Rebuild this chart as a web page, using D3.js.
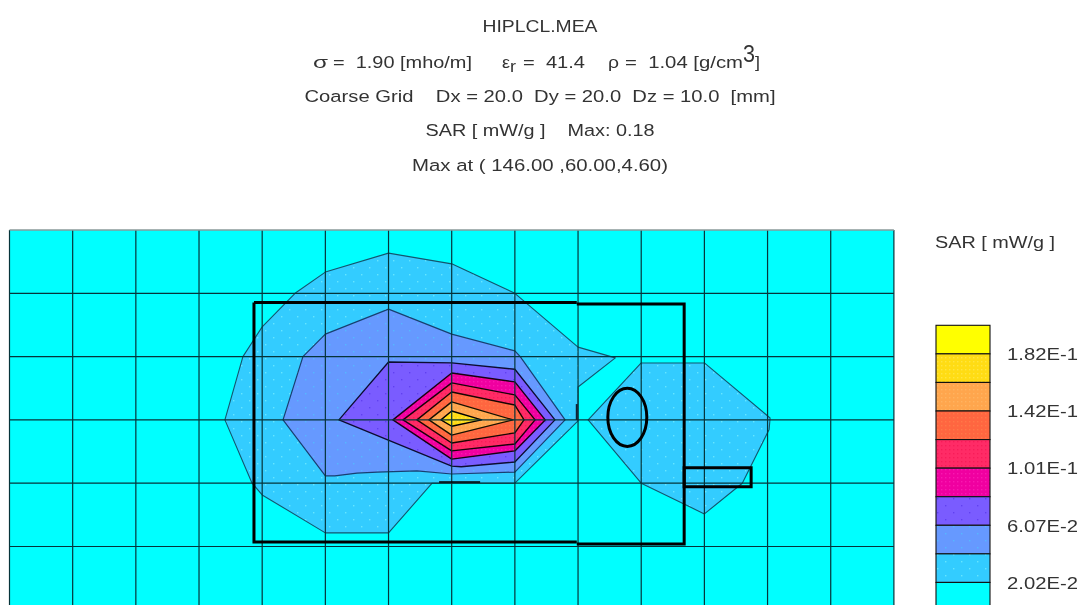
<!DOCTYPE html>
<html>
<head>
<meta charset="utf-8">
<script src="https://cdn.jsdelivr.net/npm/d3@7"></script>
<style>
html,body{margin:0;padding:0;background:#fff;overflow:hidden}
svg{display:block;filter:blur(0.55px)}
text{font-family:"Liberation Sans",Arial,sans-serif;fill:#333;font-size:17.4px}
</style>
</head>
<body>
<div id="chart"></div>
<script>
// ---------- data (all positions in mm on the measurement plane) ----------
const gridXmm = d3.range(0, 281, 20);
const gridYmm = d3.range(0, 121, 20);

const legendLabels = ["1.82E-1", "1.42E-1", "1.01E-1", "6.07E-2", "2.02E-2"];
const bandColors = ["#ffff00","#ffdc14","#ffa64d","#ff6640","#ff2b66","#f000a0","#7a5cff","#6699ff","#33ccff","#00ffff"];

const level1Left = [[68.2,60],[73.9,40],[80,30.6],[90.4,20],[100,13.3],[120,7.3],[140,10.7],[160,20],[180,37],[191.8,40.4],[180,49.6],[180,60.3],[160,80],[133.8,80],[120,95.7],[100,95.7],[80,83.7],[76.8,80]];
const level1Right = [[183.2,60],[200,42],[220,42],[240.8,59.4],[240.5,63],[232,80],[220,89.7],[200,80]];
const level2 = [[86.6,60],[92.9,40],[100,32.9],[120,25],[140,32.9],[160,38.2],[161.7,40],[175.9,60],[160,76.5],[140,77.1],[129,76.1],[116.4,76.5],[110,76.8],[103,77.7],[100,77.7]];
const level3 = [[104.3,60],[120,41.7],[140,42],[160,44],[172.7,60],[160,73.3],[143,74.8],[140,74.6]];
const level4 = [[121.4,60],[140,45.2],[160,48],[169.6,60],[160,69.8],[140,72.4]];
const level5 = [[124.6,60],[140,48.3],[160,52.1],[166.4,60],[160,67.6],[140,69.8]];
const level6 = [[129,60],[140,51.2],[160,55.3],[162.9,60],[160,64.1],[140,67.3]];
const level7 = [[132.8,60],[140,54.3],[159.4,60],[140,64.8]];
const level8 = [[136.6,60],[140,57.2],[149.5,60],[140,62]];

const contourPolys = [
  {poly: level1Left,  band: 8, stroke:"#12566e", w:1.1},
  {poly: level1Right, band: 8, stroke:"#12566e", w:1.1},
  {poly: level2, band: 7, stroke:"#183f70", w:1.2},
  {poly: level3, band: 6, stroke:"#0c0c30", w:1.3},
  {poly: level4, band: 5, stroke:"#180010", w:1.4},
  {poly: level5, band: 4, stroke:"#180008", w:1.4},
  {poly: level6, band: 3, stroke:"#180600", w:1.4},
  {poly: level7, band: 2, stroke:"#181000", w:1.4},
  {poly: level8, band: 1, stroke:"#000", w:1.4}
];

// phone outline (mm)
const phoneBody1 = [[77.4,22.9],[179.6,22.9]];
const phoneBody2 = [[179.6,23.4],[213.6,23.4],[213.6,99.2],[179.6,99.2]];
const phoneBody3 = [[179.6,98.6],[77.4,98.6],[77.4,22.9]];
const phonePort = [[213.6,75.1],[234.8,75.1],[234.8,81.1],[213.6,81.1]];
const antenna = {cx:195.6, cy:59.2, rx:6.17, ry:9.2};
const peakMark = [[136,79.6],[149,79.6]];
const gapMark = [[179.6,55],[179.6,60]];

const titleLines = ["HIPLCL.MEA","Coarse Grid    Dx = 20.0  Dy = 20.0  Dz = 10.0  [mm]","SAR [ mW/g ]    Max: 0.18","Max at ( 146.00 ,60.00,4.60)"];
const legendTitle = "SAR [ mW/g ]";

// ---------- layout ----------
const W = 1082, H = 605;
const svg = d3.select("#chart").append("svg").attr("width",W).attr("height",H);
const x = d3.scaleLinear().domain([0,280]).range([9.5,893.9]);
const y = d3.scaleLinear().domain([0,120]).range([230,609.8]);
const line = d3.line().x(d=>x(d[0])).y(d=>y(d[1]));
const closed = d3.line().x(d=>x(d[0])).y(d=>y(d[1])).curve(d3.curveLinearClosed);

// stipple patterns
const defs = svg.append("defs");
const dotColors = {8:"#66e6ff",7:"#55b8ff",6:"#6040f0",5:"#f818b0",4:"#f81c58",3:"#ff7848",2:"#ffb460",1:"#ffe640"};
bandColors.forEach((c,i)=>{
  const big = i>=6;
  const p = defs.append("pattern").attr("id","band"+i).attr("patternUnits","userSpaceOnUse")
    .attr("width",big?16:4).attr("height",big?14:4);
  p.append("rect").attr("width",16).attr("height",14).attr("fill",c);
  if(dotColors[i]){
    p.append("rect").attr("x",1).attr("y",1).attr("width",1.4).attr("height",1.4).attr("fill",dotColors[i]);
    if(big) p.append("rect").attr("x",9).attr("y",8).attr("width",1.4).attr("height",1.4).attr("fill",dotColors[i]);
  }
});

// plot background
svg.append("rect").attr("x",x(0)).attr("y",y(0)).attr("width",x(280)-x(0)).attr("height",H-y(0)).attr("fill",bandColors[9]);

// contour fills
svg.append("g").selectAll("path").data(contourPolys).join("path")
  .attr("d",d=>closed(d.poly))
  .attr("fill",d=>`url(#band${d.band})`)
  .attr("stroke",d=>d.stroke).attr("stroke-width",d=>d.w).attr("stroke-linejoin","round");

// grid
const grid = svg.append("g").attr("stroke","#06343a").attr("stroke-width",1.2);
grid.selectAll("line.v").data(gridXmm).join("line").attr("class","v")
  .attr("x1",d=>x(d)).attr("x2",d=>x(d)).attr("y1",y(0)).attr("y2",H);
grid.selectAll("line.h").data(gridYmm).join("line").attr("class","h")
  .attr("x1",x(0)).attr("x2",x(280)).attr("y1",d=>y(d)).attr("y2",d=>y(d));
grid.select("line.h").attr("stroke","#8a9a9a").attr("stroke-width",1.6);

// phone outline
const phone = svg.append("g").attr("fill","none").attr("stroke","#000").attr("stroke-width",3);
[phoneBody1,phoneBody2,phoneBody3].forEach(p=>phone.append("path").attr("d",line(p)));
phone.append("path").attr("d",closed(phonePort));
phone.append("ellipse").attr("cx",x(antenna.cx)).attr("cy",y(antenna.cy))
  .attr("rx",x(antenna.rx)-x(0)).attr("ry",y(antenna.ry)-y(0));
svg.append("path").attr("d",line(peakMark)).attr("stroke","#000").attr("stroke-width",1.6);
svg.append("path").attr("d",line(gapMark)).attr("stroke","#123").attr("stroke-width",2);

// the reference text is horizontally stretched: fix each run's drawn width
const fit = (sel,w)=>sel.attr("textLength",w).attr("lengthAdjust","spacingAndGlyphs");

// title
const cx = 540;
const tY = [25.5,96,130,165];
const tW = [115,471,229,256];
svg.append("g").selectAll("text").data(titleLines).join("text")
  .attr("x",cx).attr("y",(d,i)=>tY[i]).attr("dy","0.36em")
  .attr("text-anchor","middle").style("white-space","pre").text(d=>d)
  .call(fit,(d,i)=>tW[i]);

// material parameter line
const matItems = [
  {t:"σ",x:313,y:68,s:17.4,w:15},{t:"=  1.90 [mho/m]",x:333,y:67.5,s:17.4,w:139},
  {t:"ε",x:502,y:67.5,s:16,w:8},{t:"r",x:510,y:72,s:16,w:6},{t:"=  41.4",x:523,y:67.5,s:17.4,w:62},
  {t:"ρ",x:608,y:68,s:17.4,w:11},{t:"=  1.04 [g/cm",x:625,y:67.5,s:17.4,w:118},{t:"3",x:743,y:62,s:23,w:12},{t:"]",x:755,y:67.5,s:17.4,w:5}
];
svg.append("g").selectAll("text").data(matItems).join("text")
  .attr("x",d=>d.x).attr("y",d=>d.y).style("font-size",d=>d.s+"px").style("white-space","pre").text(d=>d.t)
  .call(fit,d=>d.w);

// legend
svg.append("text").attr("x",935).attr("y",248).text(legendTitle).call(fit,120);
const legendY = d3.scaleBand().domain(d3.range(bandColors.length)).range([325.3,611]);
svg.append("g").selectAll("rect").data(bandColors).join("rect")
  .attr("x",936).attr("width",54)
  .attr("y",(d,i)=>legendY(i)).attr("height",legendY.bandwidth())
  .attr("fill",(d,i)=>`url(#band${i})`).attr("stroke","#111").attr("stroke-width",1.1);
svg.append("g").selectAll("text").data(legendLabels).join("text")
  .attr("x",1007).attr("y",(d,i)=>legendY(2*i+1)).attr("dy","0.36em").text(d=>d).call(fit,71);
</script>
</body>
</html>
